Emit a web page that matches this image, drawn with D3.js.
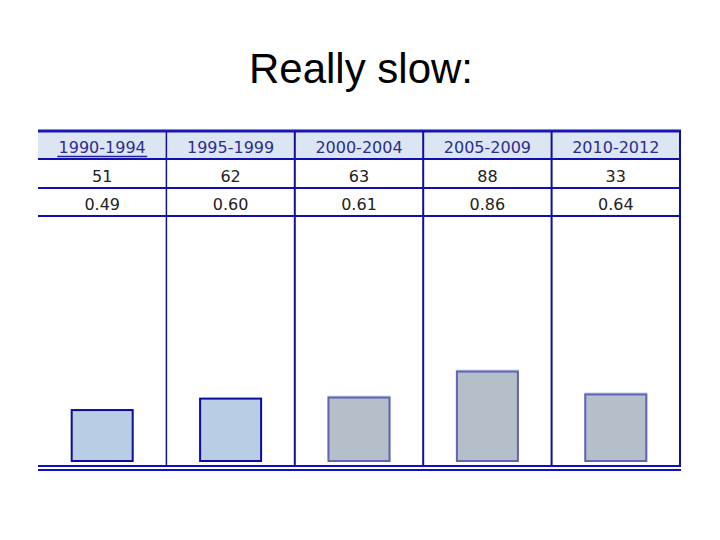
<!DOCTYPE html>
<html><head><meta charset="utf-8">
<script src="https://cdn.jsdelivr.net/npm/d3@7"></script>
<style>body{margin:0;background:#fff}</style>
</head><body>
<svg id="c" width="720" height="540"></svg>
<script>
const periods = ["1990-1994","1995-1999","2000-2004","2005-2009","2010-2012"];
const counts = ["51","62","63","88","33"];
const ratios = [0.49, 0.60, 0.61, 0.86, 0.64];
const ratioLabels = ["0.49","0.60","0.61","0.86","0.64"];
const barStyle = ["blue","blue","gray","gray","gray"];

(function(){
const svg = d3.select("#c");
svg.append("text").attr("x",361).attr("y",83).attr("text-anchor","middle")
  .attr("font-family","Liberation Sans, Arial, sans-serif").attr("font-size",42)
  .attr("fill","#000").text("Really slow:");

const tLeft=38,tRight=680,tTop=131,rowH=[159,188,216],base=461,tBottom=466;
const x = d3.scaleBand().domain(periods).range([tLeft,tRight]).padding(0);
const y = d3.scaleLinear().domain([0,1]).range([base, base-104]);

svg.append("rect").attr("x",tLeft).attr("y",tTop).attr("width",tRight-tLeft).attr("height",rowH[0]-tTop).attr("fill","#dce6f2");

const lc="#10109a";
svg.append("line").attr("x1",tLeft).attr("x2",tRight+1).attr("y1",tTop).attr("y2",tTop).attr("stroke","#1818b0").attr("stroke-width",3);
rowH.forEach(yy=>svg.append("line").attr("x1",tLeft).attr("x2",tRight).attr("y1",yy).attr("y2",yy).attr("stroke","#1010b0").attr("stroke-width",2));
periods.slice(1).forEach((p,i)=>svg.append("line").attr("x1",x(p)).attr("x2",x(p)).attr("y1",tTop).attr("y2",tBottom)
  .attr("stroke",lc).attr("stroke-width",i===0?1.5:2));
svg.append("line").attr("x1",tRight).attr("x2",tRight).attr("y1",tTop).attr("y2",tBottom).attr("stroke",lc).attr("stroke-width",2);
[466,470].forEach(yy=>svg.append("line").attr("x1",tLeft).attr("x2",tRight+1).attr("y1",yy).attr("y2",yy).attr("stroke","#0e0ec8").attr("stroke-width",2));

const tf="DejaVu Sans, Verdana, sans-serif";
const cx = p=>x(p)+x.bandwidth()/2;
svg.selectAll("text.h").data(periods).enter().append("text").attr("class","h")
  .attr("x",d=>cx(d)).attr("y",153).attr("text-anchor","middle").attr("font-family",tf).attr("font-size",16)
  .attr("fill","#2c2c8e").text(d=>d);
svg.append("line").attr("x1",cx(periods[0])-45).attr("x2",cx(periods[0])+45).attr("y1",156.5).attr("y2",156.5).attr("stroke","#2020a0").attr("stroke-width",1.5);
svg.selectAll("text.c").data(counts).enter().append("text").attr("class","c")
  .attr("x",(d,i)=>cx(periods[i])).attr("y",182).attr("text-anchor","middle").attr("font-family",tf).attr("font-size",16)
  .attr("fill","#222").text(d=>d);
svg.selectAll("text.r").data(ratioLabels).enter().append("text").attr("class","r")
  .attr("x",(d,i)=>cx(periods[i])).attr("y",210).attr("text-anchor","middle").attr("font-family",tf).attr("font-size",16)
  .attr("fill","#222").text(d=>d);

const bw=61;
const barData = ratios.map((v,i)=>({v, p:periods[i], s:barStyle[i]}));
const bars = svg.selectAll("g.bar").data(barData).enter().append("g").attr("class","bar");
bars.filter(d=>d.s==="gray").append("rect")
  .attr("x",d=>cx(d.p)-bw/2-1).attr("y",d=>y(d.v)-2).attr("width",bw+2).attr("height",d=>base-y(d.v)+2)
  .attr("fill","#ccd0ea");
bars.append("rect")
  .attr("x",d=>cx(d.p)-bw/2).attr("y",d=>y(d.v)).attr("width",bw).attr("height",d=>base-y(d.v))
  .attr("fill",d=>d.s==="blue"?"#b9cee5":"#b5bfca")
  .attr("stroke",d=>d.s==="blue"?"#0b0b9e":"#6262b6").attr("stroke-width",2);
})();
</script>
</body></html>
